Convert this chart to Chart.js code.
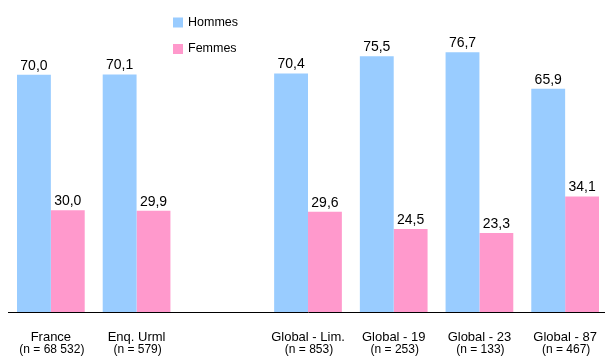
<!DOCTYPE html>
<html>
<head>
<meta charset="utf-8">
<script src="https://cdn.jsdelivr.net/npm/chart.js@4/dist/chart.umd.min.js"></script>
<style>
  html, body { margin: 0; padding: 0; background: #fff; overflow: hidden; }
  canvas { display: block; }
</style>
</head>
<body>
<canvas id="c" width="610" height="356"></canvas>
<script>
// Categories (the empty slot separates the national references from the local surveys)
const categories = ['France', 'Enq. Urml', '', 'Global - Lim.', 'Global - 19', 'Global - 23', 'Global - 87'];
const sampleSizes = ['(n = 68 532)', '(n = 579)', '', '(n = 853)', '(n = 253)', '(n = 133)', '(n = 467)'];
const hommes = [70.0, 70.1, null, 70.4, 75.5, 76.7, 65.9];
const femmes = [30.0, 29.9, null, 29.6, 24.5, 23.3, 34.1];
const seriesNames = ['Hommes', 'Femmes'];
const seriesColors = ['#99CCFF', '#FF99CC'];

const FONT = '"Liberation Sans", Arial, sans-serif';

// Value labels above each bar, French decimal comma
const valueLabels = {
  id: 'valueLabels',
  afterDatasetsDraw(chart) {
    const ctx = chart.ctx;
    ctx.save();
    ctx.font = '14px ' + FONT;
    ctx.fillStyle = '#000';
    ctx.textAlign = 'center';
    ctx.textBaseline = 'bottom';
    chart.data.datasets.forEach((ds, i) => {
      chart.getDatasetMeta(i).data.forEach((bar, j) => {
        const v = ds.data[j];
        if (v == null) return;
        ctx.fillText(v.toFixed(1).replace('.', ','), bar.x, bar.y - 2);
      });
    });
    ctx.restore();
  }
};

// Two-line category labels: name, then sample size in a smaller font
const categoryLabels = {
  id: 'categoryLabels',
  afterDraw(chart) {
    const ctx = chart.ctx;
    const xs = chart.scales.x;
    const top = chart.chartArea.bottom;
    ctx.save();
    ctx.fillStyle = '#000';
    ctx.textAlign = 'center';
    ctx.textBaseline = 'alphabetic';
    chart.data.labels.forEach((name, i) => {
      const x = xs.getPixelForTick(i);
      ctx.font = '13px ' + FONT;
      ctx.fillText(name, x, top + 29);
      ctx.font = '12px ' + FONT;
      ctx.fillText(sampleSizes[i], x + 1, top + 41);
    });
    ctx.restore();
  }
};

// Vertical legend with square swatches
const stackedLegend = {
  id: 'stackedLegend',
  afterDraw(chart) {
    const ctx = chart.ctx;
    ctx.save();
    ctx.font = '12.5px ' + FONT;
    ctx.textBaseline = 'middle';
    ctx.textAlign = 'left';
    chart.data.datasets.forEach((ds, i) => {
      const y = 22.5 + i * 26.5;
      ctx.fillStyle = ds.backgroundColor;
      ctx.fillRect(173, y - 5, 10, 10);
      ctx.fillStyle = '#000';
      ctx.fillText(ds.label, 188, y);
    });
    ctx.restore();
  }
};

new Chart(document.getElementById('c'), {
  type: 'bar',
  data: {
    labels: categories,
    datasets: [
      { label: seriesNames[0], data: hommes, backgroundColor: seriesColors[0] },
      { label: seriesNames[1], data: femmes, backgroundColor: seriesColors[1] }
    ]
  },
  options: {
    responsive: false,
    animation: false,
    layout: { padding: { left: 8, right: 2, top: 0, bottom: 0 } },
    datasets: { bar: { categoryPercentage: 0.79, barPercentage: 1.0 } },
    plugins: {
      legend: { display: false },
      tooltip: { enabled: false }
    },
    scales: {
      x: {
        grid: { display: false, drawTicks: false },
        border: { display: true, color: '#000', width: 1 },
        ticks: { display: false },
        afterFit(scale) {
          scale.height = 44;
          scale.paddingLeft = 0;
          scale.paddingRight = 0;
        }
      },
      y: {
        display: false,
        min: 0,
        max: 92.1
      }
    }
  },
  plugins: [valueLabels, categoryLabels, stackedLegend]
});
</script>
</body>
</html>
